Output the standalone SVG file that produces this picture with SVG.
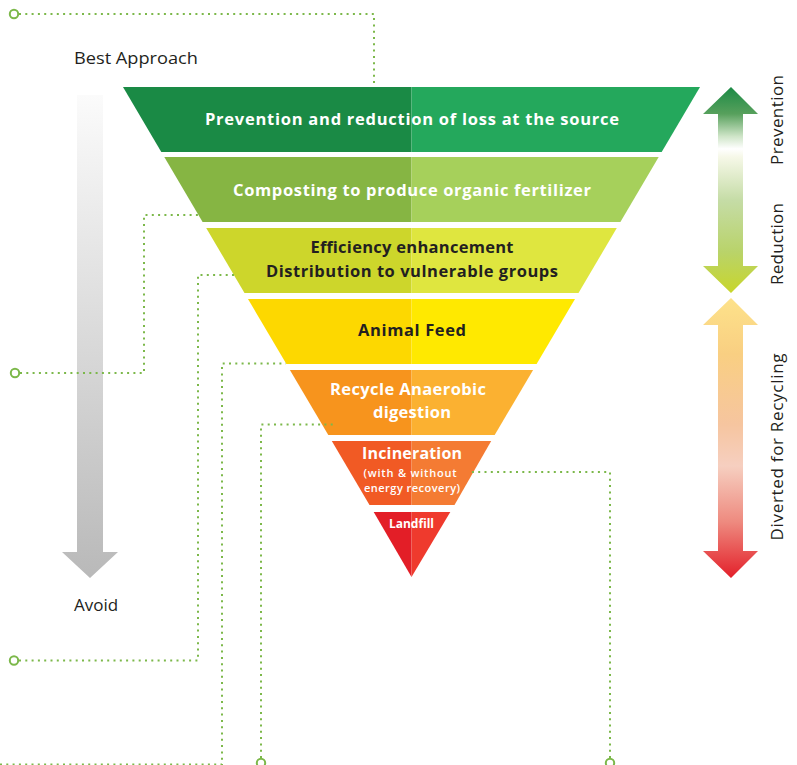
<svg xmlns="http://www.w3.org/2000/svg" width="797" height="765" viewBox="0 0 797 765">
<defs>
<style>
text{font-family:"Open Sans","Liberation Sans",sans-serif}
.lbl{font-size:17px;fill:#231f20}
.bw{font-size:16.5px;font-weight:bold;fill:#ffffff;text-anchor:middle}
.bd{font-size:16.5px;font-weight:bold;fill:#231f20;text-anchor:middle}
.sub{font-size:11px;font-weight:600;fill:#ffffff;text-anchor:middle}
.side{font-size:17px;fill:#231f20;text-anchor:middle}
.dot{fill:none;stroke:#7cb84a;stroke-width:2;stroke-dasharray:2 4.3}
.ring{fill:#ffffff;stroke:#7cb84a;stroke-width:2}
</style>
<linearGradient id="gGray" gradientUnits="userSpaceOnUse" x1="0" y1="95" x2="0" y2="578">
<stop offset="0" stop-color="#fbfbfb"/>
<stop offset="1" stop-color="#b9b9b9"/>
</linearGradient>
<linearGradient id="gGreen" gradientUnits="userSpaceOnUse" x1="0" y1="87" x2="0" y2="293">
<stop offset="0" stop-color="#1b8a45"/>
<stop offset="0.13" stop-color="#57a05c"/>
<stop offset="0.24" stop-color="#cfe5c8"/>
<stop offset="0.3" stop-color="#ffffff"/>
<stop offset="0.34" stop-color="#f6f8e8"/>
<stop offset="0.55" stop-color="#c5dca6"/>
<stop offset="0.8" stop-color="#b9d36a"/>
<stop offset="1" stop-color="#c8d62b"/>
</linearGradient>
<linearGradient id="gRed" gradientUnits="userSpaceOnUse" x1="0" y1="298" x2="0" y2="578">
<stop offset="0" stop-color="#fde28a"/>
<stop offset="0.2" stop-color="#f9cf82"/>
<stop offset="0.45" stop-color="#f6c59f"/>
<stop offset="0.6" stop-color="#f6cfc0"/>
<stop offset="0.8" stop-color="#ee8a7f"/>
<stop offset="1" stop-color="#e3202a"/>
</linearGradient>
</defs>
<rect width="797" height="765" fill="#ffffff"/>

<g id="label-best">
<text class="lbl" x="74" y="64" textLength="124" lengthAdjust="spacingAndGlyphs">Best Approach</text>
</g>
<g id="label-avoid">
<text class="lbl" x="74" y="611">Avoid</text>
</g>
<g id="arrow-left">
<path d="M77,95 H103 V552 H118 L90,578 L62,552 H77 Z" fill="url(#gGray)"/>
</g>

<g id="band1">
<polygon points="123,87 411.5,87 411.5,152 161.3,152" fill="#1a8a45"/>
<polygon points="411.5,87 700,87 661.7,152 411.5,152" fill="#24a85c"/>
<text class="bw" x="412" y="125" textLength="414" lengthAdjust="spacing">Prevention and reduction of loss at the source</text>
</g>
<g id="band2">
<polygon points="164.3,157 411.5,157 411.5,222 202.6,222" fill="#86b543"/>
<polygon points="411.5,157 658.7,157 620.4,222 411.5,222" fill="#a6d05b"/>
<text class="bw" x="412" y="196" textLength="358" lengthAdjust="spacing">Composting to produce organic fertilizer</text>
</g>
<g id="band3">
<polygon points="206.2,228 411.5,228 411.5,293 244.5,293" fill="#cdd62b"/>
<polygon points="411.5,228 616.8,228 578.5,293 411.5,293" fill="#dfe63f"/>
<text class="bd" x="412" y="253" textLength="203" lengthAdjust="spacing">Efficiency enhancement</text>
<text class="bd" x="412" y="277" textLength="292" lengthAdjust="spacing">Distribution to vulnerable groups</text>
</g>
<g id="band4">
<polygon points="248,299 411.5,299 411.5,364 286.4,364" fill="#fdd800"/>
<polygon points="411.5,299 575,299 536.6,364 411.5,364" fill="#ffe900"/>
<text class="bd" x="412" y="336" textLength="108" lengthAdjust="spacing">Animal Feed</text>
</g>
<g id="band5">
<polygon points="289.9,370 411.5,370 411.5,435 328.3,435" fill="#f7941d"/>
<polygon points="411.5,370 533.1,370 494.7,435 411.5,435" fill="#fbb131"/>
<text class="bw" x="408" y="395" textLength="156" lengthAdjust="spacing">Recycle Anaerobic</text>
<text class="bw" x="412" y="418" textLength="78" lengthAdjust="spacing">digestion</text>
</g>
<g id="band6">
<polygon points="331.8,441 411.5,441 411.5,505 369.5,505" fill="#f15a24"/>
<polygon points="411.5,441 491.2,441 454.5,505 411.5,505" fill="#f47b33"/>
<text class="bw" x="412" y="459" style="font-size:16px" textLength="100" lengthAdjust="spacing">Incineration</text>
<text class="sub" x="410" y="476.5" textLength="93" lengthAdjust="spacing">(with &amp; without</text>
<text class="sub" x="412" y="491.5" textLength="96" lengthAdjust="spacing">energy recovery)</text>
</g>
<g id="band7">
<polygon points="373.7,512 411.5,512 411.5,577" fill="#e31e27"/>
<polygon points="411.5,512 450.3,512 411.5,577" fill="#ef3a2d"/>
<text class="bw" x="411.5" y="528" style="font-size:12px" textLength="45" lengthAdjust="spacing">Landfill</text>
</g>

<g id="arrow-prevention-reduction">
<path d="M731,87 L758,114 H743 V266 H758 L731,293 L703,266 H718 V114 H703 Z" fill="url(#gGreen)"/>
</g>
<g id="arrow-diverted">
<path d="M731,298 L758,325 H743 V551 H758 L731,578 L703,551 H718 V325 H703 Z" fill="url(#gRed)"/>
</g>
<g id="label-prevention">
<text class="side" transform="translate(783,120) rotate(-90)" textLength="90" lengthAdjust="spacing">Prevention</text>
</g>
<g id="label-reduction">
<text class="side" transform="translate(783,244) rotate(-90)" textLength="82" lengthAdjust="spacing">Reduction</text>
</g>
<g id="label-diverted">
<text class="side" transform="translate(783,447) rotate(-90)" textLength="187" lengthAdjust="spacing">Diverted for Recycling</text>
</g>

<g id="connectors">
<path class="dot" d="M19,14 H374 V87"/>
<circle class="ring" cx="14" cy="14" r="4.2"/>
<path class="dot" d="M20,373 H144 V215 H199"/>
<circle class="ring" cx="15" cy="373" r="4.2"/>
<path class="dot" d="M19,660.5 H198 V275 H236"/>
<circle class="ring" cx="14" cy="660.5" r="4.2"/>
<path class="dot" d="M0,764.5 H222 V363.5 H286"/>
<path class="dot" d="M261,758 V424.5 H333"/>
<circle class="ring" cx="261" cy="763" r="4.2"/>
<path class="dot" d="M610,758 V472 H470"/>
<circle class="ring" cx="610" cy="763" r="4.2"/>
</g>
</svg>
